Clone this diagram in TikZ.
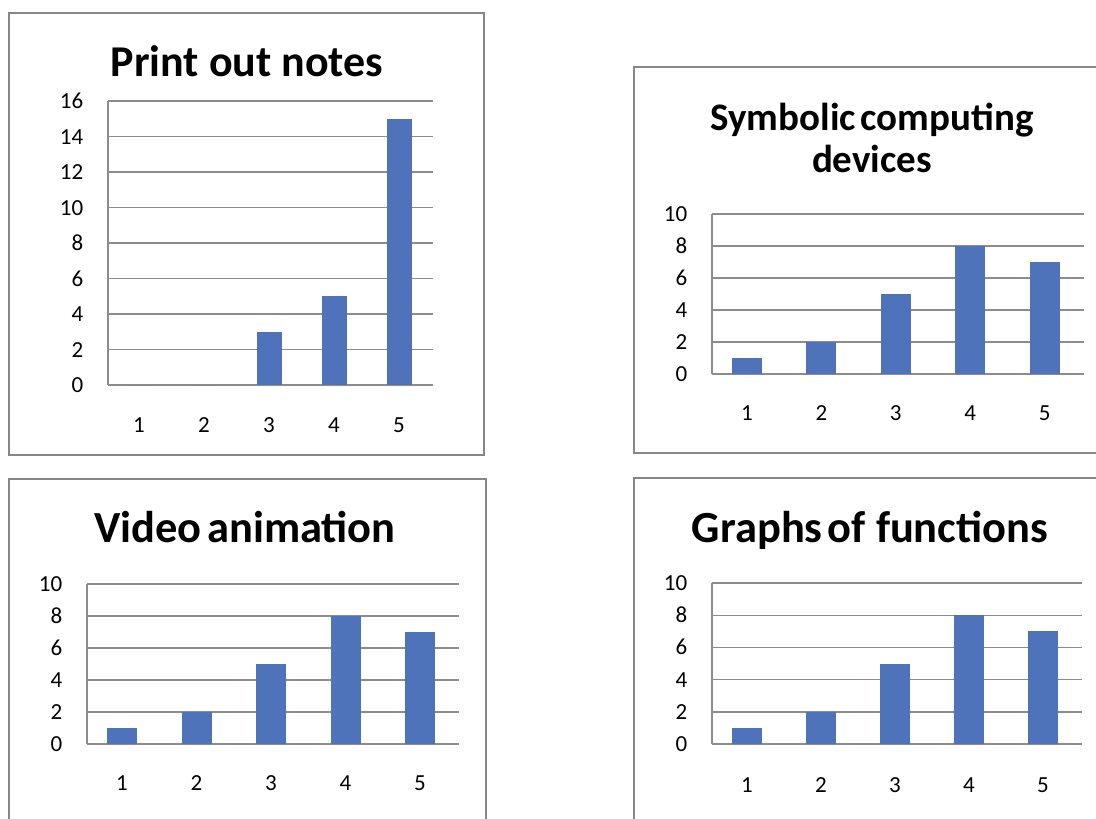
\documentclass[tikz,border=0pt]{standalone}
\usepackage{fontspec}
\setmainfont{Carlito}
\definecolor{barblue}{RGB}{79,115,186}
\definecolor{gridgray}{RGB}{140,140,140}
\definecolor{framegray}{RGB}{135,135,135}
\tikzset{
  frame/.style={draw=framegray, line width=2pt},
  gridline/.style={draw=gridgray, line width=1.4pt},
  bar/.style={fill=barblue},
  charttitle/.style={font=\bfseries\fontsize{#1}{42}\selectfont, anchor=base, inner sep=0pt},
  ticklbl/.style={font=\fontsize{23}{26}\selectfont, anchor=base east, inner sep=0pt},
  catlbl/.style={font=\fontsize{23}{26}\selectfont, anchor=base, inner sep=0pt}
}

\begin{document}
\begin{tikzpicture}[x=1pt, y=-1pt]
  \useasboundingbox (0,0) rectangle (1096,819);
  % Chart 1: print out notes
  \draw[frame] (9,13) rectangle (484,455);
  \node[charttitle=44] (pn-title) at (247,76) {Print out notes};
  \foreach \v in {0,2,...,16}
    \draw[gridline] (108,385-17.75*\v) -- (433,385-17.75*\v)
      node[ticklbl] (pn-y\v) at (84,385-17.75*\v+7.5) {\v};
  \draw[gridline] (108,101) -- (108,385);
  \foreach \i/\h in {1/0,2/0,3/3,4/5,5/15} {
    \fill[bar] (139+65*\i-65-12.5,385) rectangle (139+65*\i-65+12.5,385-17.75*\h);
    \node[catlbl] (pn-x\i) at (139+65*\i-65,432) {\i};
  }
  % Chart 2: symbolic computing devices
  \draw[frame] (634,67) rectangle (1110,453);
  \node[charttitle=39, align=center] (sc-title) at (872,172)
    {Symbolic\hspace{0.12em}computing\\devices};
  \foreach \v in {0,2,...,10}
    \draw[gridline] (712,374-16*\v) -- (1084,374-16*\v)
      node[ticklbl] (sc-y\v) at (688,374-16*\v+7.5) {\v};
  \draw[gridline] (712,214) -- (712,374);
  \foreach \i/\h in {1/1,2/2,3/5,4/8,5/7} {
    \fill[bar] (747+74.4*\i-74.4-15,374) rectangle (747+74.4*\i-74.4+15,374-16*\h);
    \node[catlbl] (sc-x\i) at (747+74.4*\i-74.4,420) {\i};
  }
  % Chart 3: video animation
  \draw[frame] (9,479) rectangle (486,830);
  \node[charttitle=44.5] (va-title) at (245,542) {Video\hspace{0.12em}animation};
  \foreach \v in {0,2,...,10}
    \draw[gridline] (87,744-16*\v) -- (459,744-16*\v)
      node[ticklbl] (va-y\v) at (63,744-16*\v+7.5) {\v};
  \draw[gridline] (87,584) -- (87,744);
  \foreach \i/\h in {1/1,2/2,3/5,4/8,5/7} {
    \fill[bar] (122+74.5*\i-74.5-15,744) rectangle (122+74.5*\i-74.5+15,744-16*\h);
    \node[catlbl] (va-x\i) at (122+74.5*\i-74.5,790) {\i};
  }
  % Chart 4: graphs of functions
  \draw[frame] (634,478) rectangle (1110,830);
  \node[charttitle=44.5] (gf-title) at (870,542) {Graphs\hspace{0.12em}of functions};
  \foreach \v in {0,2,...,10}
    \draw[gridline] (712,744-16.1*\v) -- (1082,744-16.1*\v)
      node[ticklbl] (gf-y\v) at (688,744-16.1*\v+7.5) {\v};
  \draw[gridline] (712,583) -- (712,744);
  \foreach \i/\h in {1/1,2/2,3/5,4/8,5/7} {
    \fill[bar] (747+74*\i-74-15,744) rectangle (747+74*\i-74+15,744-16.1*\h);
    \node[catlbl] (gf-x\i) at (747+74*\i-74,792) {\i};
  }
\end{tikzpicture}
\end{document}
